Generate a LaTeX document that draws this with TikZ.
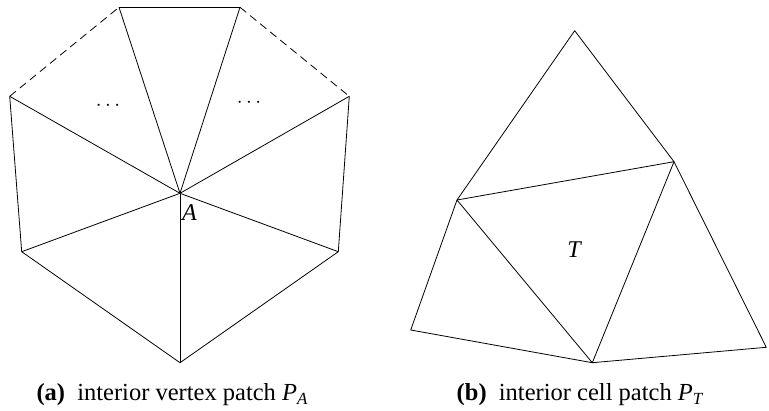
\documentclass[tikz,border=0pt]{standalone}
\usepackage{fontspec}
\setmainfont{Liberation Serif}
\usetikzlibrary{positioning}

\begin{document}
\begin{tikzpicture}[
    x=1pt, y=-1pt,
    edge/.style={line width=0.8pt, line join=round},
    hidden/.style={edge, dash pattern=on 8pt off 5pt},
    vlabel/.style={font=\fontsize{24}{28}\selectfont\itshape, inner sep=0pt},
    dotsnode/.style={font=\fontsize{20}{24}\selectfont, inner sep=0pt},
    caption/.style={font=\fontsize{24.5}{28}\selectfont, anchor=base, inner sep=0pt},
  ]
  \useasboundingbox (0,0) rectangle (769,410);

  % (a) interior vertex patch
  \coordinate (A)  at (180,193.3);
  \coordinate (T1) at (119,7.3);
  \coordinate (T2) at (240,7.3);
  \coordinate (L1) at (9.7,96.3);
  \coordinate (R1) at (349.3,96.3);
  \coordinate (L2) at (21.7,251.7);
  \coordinate (R2) at (338.3,251.7);
  \coordinate (B)  at (180,362.7);

  \foreach \v in {T1,T2,L1,R1,L2,R2,B}
  \draw[edge] (A) -- (\v);
  \draw[edge] (T1) -- (T2);
  \draw[edge] (L1) -- (L2) -- (B) -- (R2) -- (R1);
  \draw[hidden] (L1) -- (T1);
  \draw[hidden] (T2) -- (R1);

  \node[dotsnode] (dotsL) at (108,105.5) {$\cdots$};
  \node[dotsnode] (dotsR) at (249,103.2) {$\cdots$};
  \node[vlabel, below right=11pt and 2pt of A] (labA) {A};

  \node[caption] (capA) at (172,400)
  {\textbf{(a)}\hspace{0.5em}interior vertex patch \textit{P}\raisebox{-0.2em}{\fontsize{17}{20}\selectfont\textit{A}}};

  % (b) interior cell patch
  \coordinate (Ap) at (574.7,30.7);
  \coordinate (M1) at (457,200);
  \coordinate (M2) at (674,161.7);
  \coordinate (BL) at (410.7,330);
  \coordinate (BC) at (592.3,362.7);
  \coordinate (BR) at (766.3,347.3);

  \draw[edge] (M1) -- (Ap) -- (M2) -- cycle;
  \draw[edge] (M1) -- (BL) -- (BC) -- cycle;
  \draw[edge] (M2) -- (BC) -- (BR) -- cycle;

  \node[vlabel] (labT) at (574,250) {T};

  \node[caption] (capB) at (580,400)
  {\textbf{(b)}\hspace{0.5em}interior cell patch \textit{P}\raisebox{-0.2em}{\fontsize{17}{20}\selectfont\textit{T}}};
\end{tikzpicture}
\end{document}
